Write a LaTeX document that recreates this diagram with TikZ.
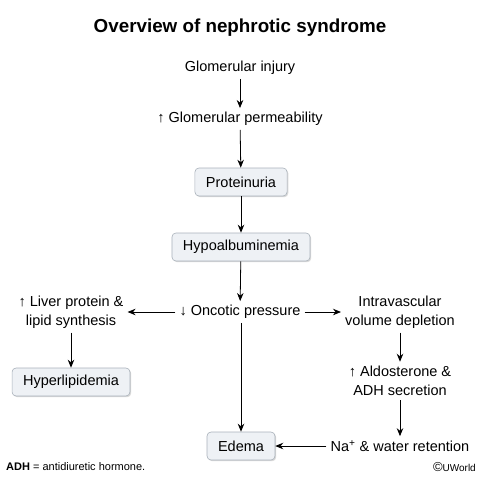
\documentclass[tikz,border=0pt]{standalone}
\usepackage{fontspec}
\setmainfont{Liberation Sans}
\usetikzlibrary{arrows.meta,shadows}
\definecolor{boxfill}{HTML}{EEF1F5}
\definecolor{boxline}{HTML}{A9B1BA}
\tikzset{
  txt/.style={font=\fontsize{14.5}{19.5}\selectfont, align=center, inner sep=4pt},
  stepbox/.style={txt, draw=boxline, fill=boxfill, rounded corners=4pt,
    minimum height=28pt, inner xsep=11pt, line width=0.6pt,
    drop shadow={shadow xshift=1.2pt, shadow yshift=-1.2pt, opacity=0.25, fill=black!60}},
  arr/.style={-{Stealth[length=8pt,width=6.5pt]}, line width=0.8pt}
}
\begin{document}
\begin{tikzpicture}[x=1pt, y=-1pt]
			\useasboundingbox (0,0) rectangle (480,480);
			%title
			\node (title) at (240, 28) {\fontsize{18.8}{22}\selectfont\bfseries Overview of nephrotic syndrome};
			
			%main chain
			\node[txt] (injury) at (240, 68) {Glomerular injury};
			\node[txt] (perm) at (240, 119) {↑ Glomerular permeability};
			\node[stepbox] (prot) at (241, 182) {Proteinuria};
			\node[stepbox] (hypo) at (241, 247) {Hypoalbuminemia};
			\node[txt] (onc) at (240, 312) {↓ Oncotic pressure};
			
			%left branch
			\node[txt] (liver) at (71, 312) {↑ Liver protein \&\\lipid synthesis};
			\node[stepbox] (lipid) at (71, 382) {Hyperlipidemia};
			
			%right branch
			\node[txt] (vol) at (400, 312) {Intravascular\\volume depletion};
			\node[txt] (aldo) at (400, 381) {↑ Aldosterone \&\\ADH secretion};
			\node[txt] (na) at (400, 446) {Na\textsuperscript{+} \& water retention};
			\node[stepbox] (edema) at (241, 446) {Edema};
			
			%connectors
			\draw[arr] (injury) -- (perm);
			\draw[arr] (perm) -- (prot);
			\draw[arr] (prot) -- (hypo);
			\draw[arr] (hypo) -- (onc);
			\draw[arr] (onc) -- (liver);
			\draw[arr] (liver) -- (lipid);
			\draw[arr] (onc) -- (vol);
			\draw[arr] (vol) -- (aldo);
			\draw[arr] (aldo) -- (na);
			\draw[arr] (na) -- (edema);
			\draw[arr] (onc.south -| edema.north) -- (edema);
			
			%footer
			\node[anchor=west, font=\fontsize{11}{13}\selectfont, inner sep=0pt] (abbr) at (6, 467) {\textbf{ADH} = antidiuretic hormone.};
			\node[anchor=east, font=\fontsize{10}{12}\selectfont, inner sep=0pt] (copy) at (476, 467) {{\fontsize{13}{12}\selectfont\textcopyright}UWorld};
		\end{tikzpicture}
\end{document}
